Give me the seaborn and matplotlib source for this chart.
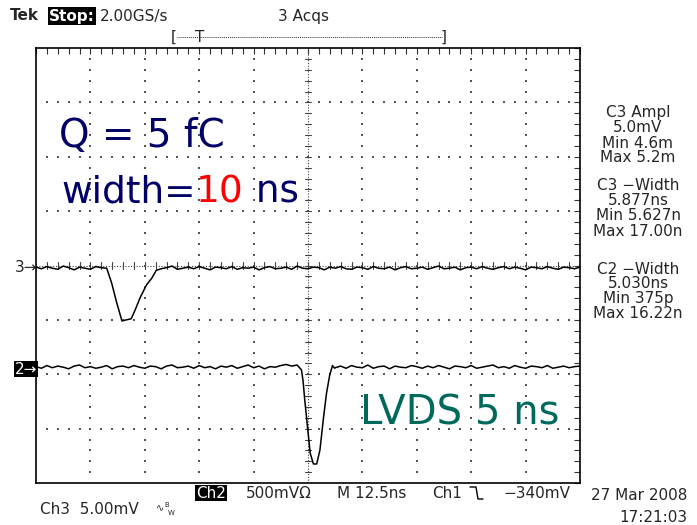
import numpy as np
import pandas as pd
import matplotlib
matplotlib.use("Agg")
import matplotlib.pyplot as plt
from matplotlib.lines import Line2D
import seaborn as sns

# Screen is 10 x 8 divisions; traces are stored in division units.
sample_t = np.round(np.arange(0, 10.001, 0.1), 2)

# Ch3: preamp output, 5 mV/div
ch3_level = -0.05
ch3_noise = [0.02, -0.01, 0.03, 0.00, -0.02, 0.04, 0.01, -0.03, 0.02, 0.00,
             -0.02, 0.03, 0.01, -0.01, 0.02, -0.03, 0.01, 0.04, -0.01, 0.02,
             0.00, -0.02, 0.03, -0.01, 0.01, 0.04, -0.02, 0.00, 0.02, -0.01,
             0.03, 0.00, -0.03, 0.02, 0.01, -0.01, 0.03, -0.02, 0.01, 0.00,
             0.02, -0.03, 0.01, 0.03, -0.01, 0.00, 0.02, -0.02, 0.04, 0.00,
             -0.01, 0.02, 0.01, -0.03, 0.02, 0.00, 0.03, -0.01, -0.02, 0.02,
             0.01, -0.02, 0.03, 0.00, -0.01, 0.02, -0.03, 0.01, 0.03, -0.01,
             0.00, 0.02, -0.02, 0.01, 0.04, -0.01, 0.00, 0.02, -0.03, 0.01,
             0.02, -0.01, 0.03, 0.00, -0.02, 0.01, 0.03, -0.01, 0.02, 0.00,
             -0.03, 0.02, 0.01, -0.01, 0.03, 0.00, -0.02, 0.02, 0.01, -0.01, 0.02]
ch3_pulse_t = [1.30, 1.39, 1.48, 1.58, 1.66, 1.75, 1.83, 1.91, 2.03, 2.13, 2.21]
ch3_pulse_v = [-0.05, -0.32, -0.67, -1.02, -1.00, -0.98, -0.80, -0.60, -0.36, -0.23, -0.09]

# Ch2: LVDS discriminator output
ch2_level = -1.87
ch2_noise = [0.01, -0.02, 0.03, -0.01, 0.02, 0.00, -0.03, 0.02, 0.04, -0.01,
             0.01, -0.02, 0.00, 0.03, -0.03, 0.01, 0.02, -0.01, 0.03, 0.00,
             -0.02, 0.02, 0.01, -0.03, 0.02, 0.04, -0.01, 0.00, 0.02, -0.02,
             0.03, -0.01, 0.01, -0.03, 0.02, 0.00, 0.03, -0.02, 0.01, 0.04,
             -0.01, 0.02, -0.03, 0.01, 0.00, 0.03, 0.05, 0.02, 0.04, 0.01,
             0.00, 0.00, 0.00, 0.00, 0.00, -0.01, 0.02, -0.02, 0.03, 0.00,
             -0.01, 0.04, -0.02, 0.01, 0.02, -0.03, 0.02, 0.00, -0.01, 0.03,
             0.01, -0.02, 0.02, -0.01, 0.03, 0.00, -0.03, 0.02, 0.01, -0.01,
             0.03, -0.02, 0.00, 0.02, 0.04, -0.01, 0.01, -0.02, 0.03, 0.00,
             -0.02, 0.02, 0.01, -0.01, 0.03, -0.02, 0.00, 0.02, -0.01, 0.01, 0.02]
ch2_pulse_t = [4.88, 4.91, 4.94, 4.99, 5.04, 5.10, 5.16, 5.22, 5.28, 5.34, 5.40, 5.45, 5.49]
ch2_pulse_v = [-1.92, -2.13, -2.47, -2.96, -3.45, -3.65, -3.65, -3.39, -2.84, -2.35, -2.01, -1.84, -1.89]


def build_trace(name, level, noise, pulse_t, pulse_v):
    keep = [(t, level + n) for t, n in zip(sample_t, noise)
            if t < pulse_t[0] or t > pulse_t[-1]]
    df = pd.DataFrame({"t": [k[0] for k in keep] + list(pulse_t),
                       "v": [k[1] for k in keep] + list(pulse_v)})
    df["channel"] = name
    return df.sort_values("t")


traces = pd.concat([build_trace("Ch3", ch3_level, ch3_noise, ch3_pulse_t, ch3_pulse_v),
                    build_trace("Ch2", ch2_level, ch2_noise, ch2_pulse_t, ch2_pulse_v)])

sns.set_style("white")
plt.rcParams["font.family"] = ["DejaVu Sans"]

W, H = 697, 525
fig = plt.figure(figsize=(W / 100, H / 100), dpi=100)
ax = fig.add_axes([36 / W, 1 - 483 / H, 544 / W, 435 / H])


def P(x, y):
    return x / W, 1 - y / H


# graticule
dot_kw = dict(s=1.3, marker="s", color="#555555", linewidths=0, zorder=1)
fine = np.round(np.arange(0.2, 10.0, 0.2), 2)
fine_y = np.round(np.arange(-3.8, 4.0, 0.2), 2)
for gx in [1, 2, 3, 4, 6, 7, 8, 9]:
    ax.scatter(np.full(len(fine_y), gx), fine_y, **dot_kw)
for gy in [-3, -2, -1, 1, 2, 3]:
    ax.scatter(fine, np.full(len(fine), gy), **dot_kw)
ax.axvline(5, color="#444444", lw=0.8, ls=(0, (1, 1.5)), zorder=1)
ax.axhline(0, color="#444444", lw=0.8, ls=(0, (1, 1.5)), zorder=1)
for yy in fine_y:
    ax.plot([4.94, 5.06], [yy, yy], color="#444444", lw=0.8, zorder=1)
for xx in fine:
    ax.plot([xx, xx], [-0.06, 0.06], color="#444444", lw=0.8, zorder=1)

# traces
sns.lineplot(data=traces, x="t", y="v", hue="channel", units="channel",
             estimator=None, sort=False, palette={"Ch3": "black", "Ch2": "black"},
             lw=1.1, legend=False, ax=ax, zorder=3)

ax.set_xlim(0, 10)
ax.set_ylim(-4, 4)
ax.set_xticks(range(0, 11))
ax.set_yticks(range(-4, 5))
ax.set_xticks(fine, minor=True)
ax.set_yticks(fine_y, minor=True)
ax.tick_params(which="both", direction="in", length=4, width=0.8,
               top=True, right=True, labelbottom=False, labelleft=False, color="#333333")
ax.set_xlabel("")
ax.set_ylabel("")
for sp in ax.spines.values():
    sp.set_linewidth(1.2)
    sp.set_color("black")

# annotations on screen
navy = "#000066"
big = 28
ax.text(0.42, 2.38, "Q = 5 fC", fontsize=big, color=navy, va="center", ha="left")
wt = ax.text(0.47, 1.35, "width=", fontsize=big - 1, color=navy, va="center", ha="left")
t10 = ax.annotate("10", xy=(1, 0.5), xycoords=wt, fontsize=big - 1, color="red",
                  va="center", ha="left")
ax.annotate(" ns", xy=(1, 0.5), xycoords=t10, fontsize=big - 1, color=navy,
            va="center", ha="left")
ax.text(5.95, -2.72, "LVDS 5 ns", fontsize=29, color="#00695c", va="center", ha="left")

# status line
fs = 11
fig.text(*P(10, 16), "Tek", fontsize=fs, fontweight="bold", va="center", ha="left")
fig.text(*P(49, 16), "Stop:", fontsize=fs, fontweight="bold", color="white", va="center",
         ha="left", bbox=dict(facecolor="black", edgecolor="none", pad=1.0))
fig.text(*P(100, 16), "2.00GS/s", fontsize=fs, va="center", ha="left")
fig.text(*P(278, 16), "3 Acqs", fontsize=fs, va="center", ha="left")
fig.text(*P(171, 37), "[", fontsize=fs, va="center", ha="left")
fig.text(*P(441, 37), "]", fontsize=fs, va="center", ha="left")
fig.add_artist(Line2D([177 / W, 442 / W], [1 - 37 / H, 1 - 37 / H], lw=0.7,
                      ls=(0, (1, 1)), color="#333333"))
fig.text(*P(200, 37), "T", fontsize=fs, va="center", ha="center")

# channel markers
fig.text(*P(15, 268), "3\u2192", fontsize=fs, va="center", ha="left")
fig.text(*P(15, 369), "2\u2192", fontsize=fs, color="white", va="center", ha="left",
         bbox=dict(facecolor="black", edgecolor="none", pad=0.5))

# measurement readouts
meas = [("C3 Ampl", 113), ("5.0mV", 128), ("Min 4.6m", 143), ("Max 5.2m", 158),
        ("C3 \u2212Width", 186), ("5.877ns", 201), ("Min 5.627n", 216), ("Max 17.00n", 231),
        ("C2 \u2212Width", 269), ("5.030ns", 284), ("Min 375p", 299), ("Max 16.22n", 314)]
for s, y in meas:
    fig.text(*P(638, y), s, fontsize=fs, va="center", ha="center")

# bottom readouts
fig.text(*P(196, 493), "Ch2", fontsize=fs, color="white", va="center", ha="left",
         bbox=dict(facecolor="black", edgecolor="none", pad=0.5))
fig.text(*P(246, 493), "500mV\u03a9", fontsize=fs, va="center", ha="left")
fig.text(*P(337, 493), "M 12.5ns", fontsize=fs, va="center", ha="left")
fig.text(*P(432, 493), "Ch1", fontsize=fs, va="center", ha="left")
fig.add_artist(Line2D([470 / W, 476 / W, 478 / W, 483 / W],
                      [1 - 487 / H, 1 - 487 / H, 1 - 499 / H, 1 - 499 / H],
                      lw=1.0, color="black"))
fig.text(*P(503, 493), "\u2212340mV", fontsize=fs, va="center", ha="left")
fig.text(*P(40, 509), "Ch3  5.00mV", fontsize=fs, va="center", ha="left")
fig.text(*P(156, 508), "\u223f", fontsize=7, va="center", ha="left")
fig.text(*P(164, 508), "B", fontsize=5, va="bottom", ha="left")
fig.text(*P(168, 510), "W", fontsize=5, va="top", ha="left")
fig.text(*P(687, 495), "27 Mar 2008", fontsize=fs, va="center", ha="right")
fig.text(*P(687, 517), "17:21:03", fontsize=fs, va="center", ha="right")

fig.savefig("out.png", dpi=100, facecolor="white")
